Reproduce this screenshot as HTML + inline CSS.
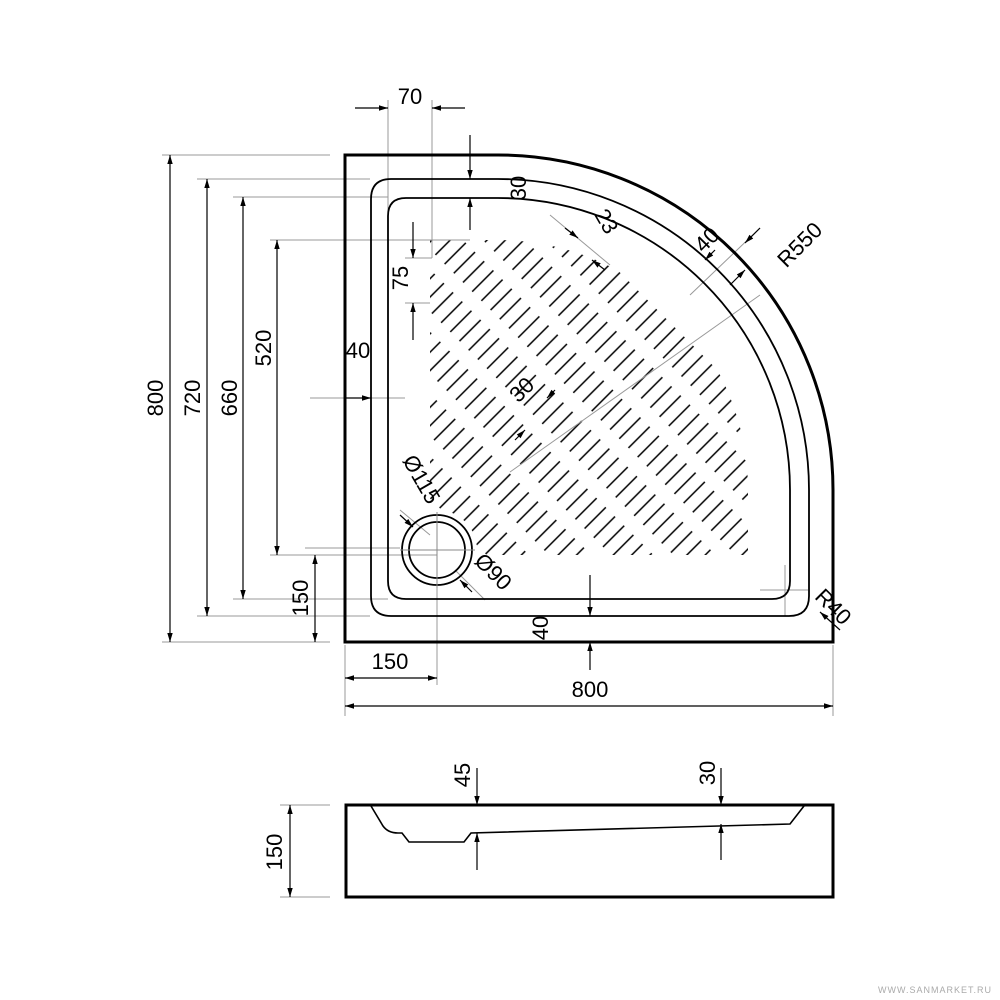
<!DOCTYPE html>
<html><head><meta charset="utf-8"><style>
html,body{margin:0;padding:0;background:#fff}
svg{display:block}
text{font-family:"Liberation Sans",sans-serif;font-size:22px;fill:#000}
</style></head><body>
<svg width="1000" height="1000" viewBox="0 0 1000 1000" xmlns="http://www.w3.org/2000/svg">
<defs>
<marker id="a" viewBox="0 0 10 10" refX="10" refY="5" markerWidth="9" markerHeight="9" orient="auto-start-reverse" markerUnits="userSpaceOnUse"><path d="M0,2 L10,5 L0,8 Z" fill="#000"/></marker>
<pattern id="slots" width="44" height="13" patternUnits="userSpaceOnUse" patternTransform="rotate(-45 498 490)">
<line x1="4" y1="6.5" x2="34" y2="6.5" stroke="#000" stroke-width="1.6"/>
</pattern>
<clipPath id="cp"><path d="M430,240 H498 A250,250 0 0 1 748,490 V555 H470 L430,505 Z"/></clipPath>
</defs>

<rect x="420" y="230" width="340" height="340" fill="url(#slots)" clip-path="url(#cp)"/>
<circle cx="437" cy="550" r="40" fill="#fff"/>

<g stroke="#999" stroke-width="1" fill="none">
<line x1="162" y1="155" x2="330" y2="155"/>
<line x1="162" y1="642" x2="330" y2="642"/>
<line x1="197" y1="179" x2="370" y2="179"/>
<line x1="197" y1="616" x2="370" y2="616"/>
<line x1="233" y1="197" x2="388" y2="197"/>
<line x1="233" y1="599" x2="388" y2="599"/>
<line x1="270" y1="240" x2="470" y2="240"/>
<line x1="270" y1="555" x2="437" y2="555"/>
<line x1="305" y1="548" x2="400" y2="548"/>
<line x1="388" y1="100" x2="388" y2="255"/>
<line x1="432" y1="100" x2="432" y2="258"/>
<line x1="405" y1="258" x2="432" y2="258"/>
<line x1="405" y1="303" x2="430" y2="303"/>
<line x1="345" y1="645" x2="345" y2="716"/>
<line x1="833" y1="645" x2="833" y2="716"/>
<line x1="437" y1="515" x2="437" y2="685"/>
<line x1="310" y1="398" x2="345" y2="398"/>
<line x1="371" y1="398" x2="405" y2="398"/>
<line x1="510" y1="472" x2="760" y2="295"/>
<line x1="690" y1="295" x2="760" y2="228"/>
<line x1="550" y1="215" x2="610" y2="265"/>
<line x1="760" y1="590" x2="808" y2="590"/>
<line x1="785" y1="565" x2="785" y2="616"/>
<line x1="280" y1="805" x2="330" y2="805"/>
<line x1="280" y1="897" x2="330" y2="897"/>
<line x1="477" y1="833" x2="477" y2="870"/>
<line x1="721" y1="824" x2="721" y2="860"/>
<line x1="400" y1="510" x2="430" y2="535"/>
<line x1="455" y1="570" x2="485" y2="600"/>
</g>

<path d="M345,155 H498 A335,335 0 0 1 833,490 V642 H345 Z" fill="none" stroke="#000" stroke-width="3"/>
<path d="M391,179 H498 A311,311 0 0 1 809,490 V596 Q809,616 789,616 H391 Q371,616 371,596 V199 Q371,179 391,179 Z" fill="none" stroke="#000" stroke-width="1.8"/>
<path d="M406,198 H498 A292,292 0 0 1 790,490 V581 Q790,599 772,599 H406 Q388,599 388,581 V216 Q388,198 406,198 Z" fill="none" stroke="#000" stroke-width="1.8"/>
<circle cx="437" cy="550" r="35" fill="none" stroke="#000" stroke-width="1.8"/>
<circle cx="437" cy="550" r="28" fill="none" stroke="#000" stroke-width="1.8"/>
<g stroke="#888" stroke-width="1"><line x1="400" y1="550" x2="475" y2="550"/><line x1="437" y1="512" x2="437" y2="588"/></g>

<g stroke="#000" stroke-width="1.2" fill="none">
<line x1="170" y1="155" x2="170" y2="642" marker-start="url(#a)" marker-end="url(#a)"/>
<line x1="207" y1="179" x2="207" y2="616" marker-start="url(#a)" marker-end="url(#a)"/>
<line x1="243" y1="197" x2="243" y2="599" marker-start="url(#a)" marker-end="url(#a)"/>
<line x1="277" y1="240" x2="277" y2="555" marker-start="url(#a)" marker-end="url(#a)"/>
<line x1="315" y1="642" x2="315" y2="555" marker-start="url(#a)" marker-end="url(#a)"/>
<line x1="355" y1="108" x2="388" y2="108" marker-end="url(#a)"/>
<line x1="465" y1="108" x2="432" y2="108" marker-end="url(#a)"/>
<line x1="470" y1="135" x2="470" y2="179" marker-end="url(#a)"/>
<line x1="470" y1="230" x2="470" y2="198" marker-end="url(#a)"/>
<line x1="413" y1="222" x2="413" y2="258" marker-end="url(#a)"/>
<line x1="413" y1="340" x2="413" y2="303" marker-end="url(#a)"/>
<line x1="345" y1="398" x2="371" y2="398" marker-end="url(#a)"/>
<line x1="590" y1="575" x2="590" y2="616" marker-end="url(#a)"/>
<line x1="590" y1="670" x2="590" y2="642" marker-end="url(#a)"/>
<line x1="345" y1="678" x2="437" y2="678" marker-start="url(#a)" marker-end="url(#a)"/>
<line x1="345" y1="706" x2="833" y2="706" marker-start="url(#a)" marker-end="url(#a)"/>
<line x1="760" y1="228" x2="745" y2="243" marker-end="url(#a)"/>
<line x1="730" y1="285" x2="745" y2="270" marker-end="url(#a)"/>
<line x1="715" y1="250" x2="705" y2="260" marker-end="url(#a)"/>
<line x1="565" y1="228" x2="578" y2="238" marker-end="url(#a)"/>
<line x1="605" y1="270" x2="592" y2="260" marker-end="url(#a)"/>
<line x1="555" y1="390" x2="547" y2="398" marker-end="url(#a)"/>
<line x1="515" y1="440" x2="525" y2="430" marker-end="url(#a)"/>
<line x1="400" y1="515" x2="413" y2="527" marker-end="url(#a)"/>
<line x1="472" y1="592" x2="460" y2="580" marker-end="url(#a)"/>
<line x1="840" y1="630" x2="820" y2="612" marker-end="url(#a)"/>
<line x1="290" y1="805" x2="290" y2="897" marker-start="url(#a)" marker-end="url(#a)"/>
<line x1="477" y1="768" x2="477" y2="805" marker-end="url(#a)"/>
<line x1="721" y1="768" x2="721" y2="805" marker-end="url(#a)"/>
<line x1="477" y1="870" x2="477" y2="833" marker-end="url(#a)"/>
<line x1="721" y1="860" x2="721" y2="824" marker-end="url(#a)"/>
</g>

<rect x="346" y="805" width="487" height="92" fill="none" stroke="#000" stroke-width="3"/>
<path d="M371,806 L383,826 Q388,833 398,833 L402,833 L409,842 L464,842 L471,833 L790,824 L804,806" fill="none" stroke="#000" stroke-width="1.6"/>

<text x="410" y="104" text-anchor="middle">70</text>
<text x="358" y="358" text-anchor="middle">40</text>
<text x="390" y="669" text-anchor="middle">150</text>
<text x="590" y="697" text-anchor="middle">800</text>
<text transform="translate(163,398) rotate(-90)" text-anchor="middle">800</text>
<text transform="translate(200,398) rotate(-90)" text-anchor="middle">720</text>
<text transform="translate(237,398) rotate(-90)" text-anchor="middle">660</text>
<text transform="translate(271,348) rotate(-90)" text-anchor="middle">520</text>
<text transform="translate(308,598) rotate(-90)" text-anchor="middle">150</text>
<text transform="translate(408,278) rotate(-90)" text-anchor="middle">75</text>
<text transform="translate(526,188) rotate(-90)" text-anchor="middle">30</text>
<text transform="translate(548,628) rotate(-90)" text-anchor="middle">40</text>
<text transform="translate(282,852) rotate(-90)" text-anchor="middle">150</text>
<text transform="translate(470,775) rotate(-90)" text-anchor="middle">45</text>
<text transform="translate(715,773) rotate(-90)" text-anchor="middle">30</text>
<text transform="translate(805,250) rotate(-45)" text-anchor="middle">R550</text>
<text transform="translate(712,245) rotate(-45)" text-anchor="middle">40</text>
<text transform="translate(600,225) rotate(60)" text-anchor="middle">23</text>
<text transform="translate(527,395) rotate(-45)" text-anchor="middle">30</text>
<text transform="translate(415,483) rotate(60)" text-anchor="middle">Ø115</text>
<text transform="translate(488,577) rotate(45)" text-anchor="middle">Ø90</text>
<text transform="translate(828,612) rotate(45)" text-anchor="middle">R40</text>
<text x="992" y="993" text-anchor="end" style="font-size:9px;fill:#aaa;letter-spacing:1px">WWW.SANMARKET.RU</text>
</svg>
</body></html>
